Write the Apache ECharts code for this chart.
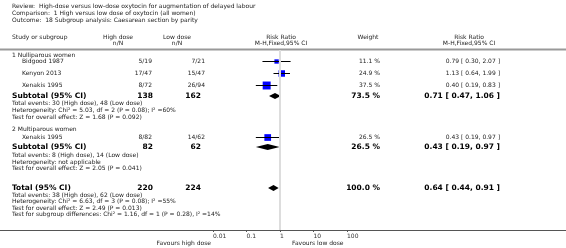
<!DOCTYPE html>
<html style="height: 100%">
  <head>
    <meta charset="UTF-8" />
    <title>Forest plot</title>
    <script src="https://cdn.jsdelivr.net/npm/echarts@6/dist/echarts.min.js"></script>
  </head>
  <body style="height: 100%; margin: 0; background: #fff">
    <div id="main" style="width: 566px; height: 248px"></div>
    <script>
      // header text
      var titleLines = [
        'Review:  High-dose versus low-dose oxytocin for augmentation of delayed labour',
        'Comparison:  1 High versus low dose of oxytocin (all women)',
        'Outcome:  18 Subgroup analysis: Caesarean section by parity'
      ];

      // studies
      var studyNames = ['Bidgood 1987', 'Kenyon 2013', 'Xenakis 1995', 'Xenakis 1995'];
      var highEvents = [5, 17, 8, 8];
      var highTotal = [19, 47, 72, 82];
      var lowEvents = [7, 15, 26, 14];
      var lowTotal = [21, 47, 94, 62];
      var studyWeight = [11.1, 24.9, 37.5, 26.5];
      var studyRR = [0.79, 1.13, 0.40, 0.43];
      var studyLo = [0.30, 0.64, 0.19, 0.19];
      var studyHi = [2.07, 1.99, 0.83, 0.97];

      // subtotals + overall total
      var groupNames = ['1 Nulliparous women', '2 Multiparous women'];
      var pooledNames = ['Subtotal (95% CI)', 'Subtotal (95% CI)', 'Total (95% CI)'];
      var pooledHigh = [138, 82, 220];
      var pooledLow = [162, 62, 224];
      var pooledWeight = ['73.5', '26.5', '100.0'];
      var pooledRR = [0.71, 0.43, 0.64];
      var pooledLo = [0.47, 0.19, 0.44];
      var pooledHi = [1.06, 0.97, 0.91];

      var notes1 = [
        'Total events: 30 (High dose), 48 (Low dose)',
        'Heterogeneity: Chi\u00b2 = 5.03, df = 2 (P = 0.08); I\u00b2 =60%',
        'Test for overall effect: Z = 1.68 (P = 0.092)'
      ];
      var notes2 = [
        'Total events: 8 (High dose), 14 (Low dose)',
        'Heterogeneity: not applicable',
        'Test for overall effect: Z = 2.05 (P = 0.041)'
      ];
      var notes3 = [
        'Total events: 38 (High dose), 62 (Low dose)',
        'Heterogeneity: Chi\u00b2 = 6.63, df = 3 (P = 0.08); I\u00b2 =55%',
        'Test for overall effect: Z = 2.49 (P = 0.013)',
        'Test for subgroup differences: Chi\u00b2 = 1.16, df = 1 (P = 0.28), I\u00b2 =14%'
      ];

      var axisTicks = [0.01, 0.1, 1, 10, 100];
      var favours = ['Favours high dose', 'Favours low dose'];

      // layout: row centre lines (page px)
      var groupRowY = [55, 129];
      var studyRowY = [61, 73, 85, 137];
      var pooledRowY = [96, 147, 188];
      var notesY = [[103, 110, 117], [155, 162, 168], [195, 201, 208, 214]];

      var FONT = '"DejaVu Sans", Verdana, sans-serif';
      var small = '6px ' + FONT;
      var bold = 'bold 7.5px ' + FONT;

      function txt(x, y, s, font, align, color) {
        return {
          type: 'text',
          silent: true,
          style: {
            x: x, y: y, text: s, font: font,
            fill: color || '#222',
            textAlign: align || 'left',
            textVerticalAlign: 'middle'
          }
        };
      }

      function fmt(v) { return v.toFixed(2); }

      var graphics = [];
      titleLines.forEach(function (s, i) {
        graphics.push(txt(12, 6 + i * 7, s, small));
      });
      graphics.push(txt(12, 37, 'Study or subgroup', small));
      graphics.push(txt(118, 37, 'High dose', small, 'center'));
      graphics.push(txt(118, 43, 'n/N', small, 'center'));
      graphics.push(txt(177, 37, 'Low dose', small, 'center'));
      graphics.push(txt(177, 43, 'n/N', small, 'center'));
      graphics.push(txt(281, 37, 'Risk Ratio', small, 'center'));
      graphics.push(txt(281, 43, 'M-H,Fixed,95% CI', small, 'center'));
      graphics.push(txt(368, 37, 'Weight', small, 'center'));
      graphics.push(txt(469, 37, 'Risk Ratio', small, 'center'));
      graphics.push(txt(469, 43, 'M-H,Fixed,95% CI', small, 'center'));
      // header rule + axis rule
      graphics.push({ type: 'line', silent: true, shape: { x1: 0, y1: 49.5, x2: 566, y2: 49.5 }, style: { stroke: '#999', lineWidth: 2 } });
      graphics.push({ type: 'line', silent: true, shape: { x1: 0, y1: 230.5, x2: 566, y2: 230.5 }, style: { stroke: '#555', lineWidth: 1 } });

      groupNames.forEach(function (s, i) {
        graphics.push(txt(12, groupRowY[i], s, small));
      });
      studyNames.forEach(function (s, i) {
        var y = studyRowY[i];
        graphics.push(txt(22, y, s, small));
        graphics.push(txt(152, y, highEvents[i] + '/' + highTotal[i], small, 'right'));
        graphics.push(txt(205, y, lowEvents[i] + '/' + lowTotal[i], small, 'right'));
        graphics.push(txt(380, y, studyWeight[i].toFixed(1) + ' %', small, 'right'));
        graphics.push(txt(500, y, fmt(studyRR[i]) + ' [ ' + fmt(studyLo[i]) + ', ' + fmt(studyHi[i]) + ' ]', small, 'right'));
      });
      pooledNames.forEach(function (s, i) {
        var y = pooledRowY[i];
        graphics.push(txt(12, y, s, bold, 'left', '#000'));
        graphics.push(txt(153, y, String(pooledHigh[i]), bold, 'right', '#000'));
        graphics.push(txt(201, y, String(pooledLow[i]), bold, 'right', '#000'));
        graphics.push(txt(380, y, pooledWeight[i] + ' %', bold, 'right', '#000'));
        graphics.push(txt(500, y, fmt(pooledRR[i]) + ' [ ' + fmt(pooledLo[i]) + ', ' + fmt(pooledHi[i]) + ' ]', bold, 'right', '#000'));
      });
      [notes1, notes2, notes3].forEach(function (lines, g) {
        lines.forEach(function (s, i) {
          graphics.push(txt(12, notesY[g][i], s, small));
        });
      });
      graphics.push(txt(211, 243, favours[0], small, 'right'));
      graphics.push(txt(292, 243, favours[1], small, 'left'));

      var studyData = studyRR.map(function (v, i) {
        return [v, studyLo[i], studyHi[i], studyRowY[i], studyWeight[i]];
      });
      var pooledData = pooledRR.map(function (v, i) {
        return [v, pooledLo[i], pooledHi[i], pooledRowY[i]];
      });

      var chart = echarts.init(document.getElementById('main'));
      var option = {
        animation: false,
        grid: { left: 213, right: 219, top: 50, bottom: 18 },
        xAxis: {
          type: 'log',
          logBase: 10,
          min: axisTicks[0],
          max: axisTicks[axisTicks.length - 1],
          axisLine: { show: false },
          axisTick: { show: true, length: 2, lineStyle: { color: '#555' } },
          splitLine: { show: false },
          axisLabel: {
            fontSize: 6,
            fontFamily: FONT,
            color: '#333',
            margin: 3,
            align: 'left',
            formatter: function (v) { return String(+v.toPrecision(2)); }
          }
        },
        yAxis: {
          type: 'value',
          inverse: true,
          min: 50,
          max: 230,
          show: false
        },
        graphic: graphics,
        series: [
          {
            type: 'custom',
            data: studyData,
            clip: false,
            markLine: {
              silent: true,
              symbol: 'none',
              label: { show: false },
              lineStyle: { color: '#ddd', width: 2, type: 'solid' },
              data: [{ xAxis: 1 }]
            },
            renderItem: function (params, api) {
              var y = api.value(3);
              var c = api.coord([api.value(0), y]);
              var a = api.coord([api.value(1), y]);
              var b = api.coord([api.value(2), y]);
              var s = 1.3 * Math.sqrt(api.value(4));
              var yy = Math.round(c[1]) + 0.5;
              return {
                type: 'group',
                z2: 10,
                children: [
                  { type: 'rect', shape: { x: c[0] - s / 2, y: yy - s / 2, width: s, height: s }, style: { fill: '#0000ff' } },
                  { type: 'line', shape: { x1: a[0], y1: yy, x2: b[0], y2: yy }, style: { stroke: '#000', lineWidth: 1 } }
                ]
              };
            }
          },
          {
            type: 'custom',
            data: pooledData,
            clip: false,
            renderItem: function (params, api) {
              var y = api.value(3);
              var c = api.coord([api.value(0), y]);
              var a = api.coord([api.value(1), y]);
              var b = api.coord([api.value(2), y]);
              var h = 3;
              return {
                type: 'polygon',
                z2: 10,
                shape: { points: [[a[0], c[1]], [c[0], c[1] - h], [b[0], c[1]], [c[0], c[1] + h]] },
                style: { fill: '#000' }
              };
            }
          }
        ]
      };
      chart.setOption(option);
    </script>
  </body>
</html>
